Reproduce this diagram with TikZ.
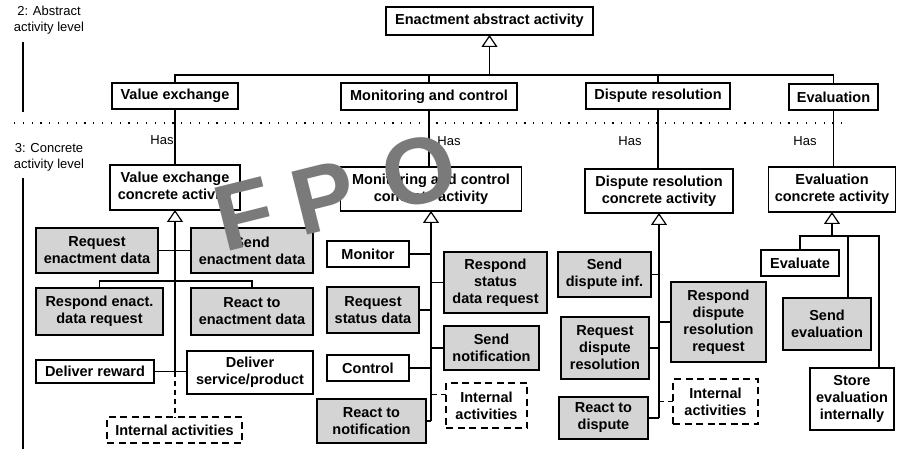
\documentclass[tikz,border=0pt]{standalone}
\usepackage{fontspec}
\setmainfont{Liberation Sans}
\usetikzlibrary{arrows.meta,calc}
\definecolor{boxgray}{gray}{0.83}
\definecolor{fpogray}{gray}{0.48}
\begin{document}
\begin{tikzpicture}[x=1pt,y=-1pt,
  every node/.style={inner sep=0pt, outer sep=0pt},
  box/.style={draw, line width=1.3pt, fill=white, align=center,
    font=\bfseries\fontsize{14.5}{17}\selectfont},
  gbox/.style={box, fill=boxgray},
  ibox/.style={box, dash pattern=on 7pt off 4.5pt},
  link/.style={line width=1.1pt},
  tri/.style={link, -{Triangle[open, width=16pt, length=12pt, line width=1.2pt, fill=white]}},
  dlink/.style={link, dash pattern=on 5pt off 4pt},
  has/.style={font=\fontsize{13}{15}\selectfont},
  lvl/.style={align=center, font=\fontsize{13}{16}\selectfont},
  fpo/.style={text=fpogray, font=\bfseries\fontsize{94}{94}\selectfont, rotate=14}]

\fill[white] (0,0) rectangle (897,449);
\useasboundingbox (0,0) rectangle (897,449);

% level captions and separators
\node[lvl] (l2) at (49,20) {2: Abstract\\activity level};
\node[lvl] (l3) at (49,157) {3: Concrete\\activity level};
\coordinate (l2a) at (23,42);  \coordinate (l2b) at (23,112);
\coordinate (l3a) at (23,178); \coordinate (l3b) at (23,449);
\draw[link] (l2a) -- (l2b);
\draw[link] (l3a) -- (l3b);
\coordinate (sepL) at (14,123); \coordinate (sepR) at (845,123);
\draw[line width=1.1pt, dash pattern=on 1.2pt off 7.6pt] (sepL) -- (sepR);

% abstract activities
\node[box, minimum width=207pt, minimum height=28pt] (enact) at (489.5,21) {Enactment abstract activity};
\node[box, minimum width=126pt, minimum height=26pt] (val)  at (175,96)   {Value exchange};
\node[box, minimum width=176pt, minimum height=27pt] (mon)  at (429,96.5) {Monitoring and control};
\node[box, minimum width=144pt, minimum height=26pt] (disp) at (658,96)   {Dispute resolution};
\node[box, minimum width=89pt,  minimum height=26pt] (evl)  at (833.5,97) {Evaluation};

% concrete activities
\node[box, minimum width=130pt, minimum height=45pt] (valc)  at (175,187.5) {Value exchange\\concrete activity};
\node[box, minimum width=181pt, minimum height=44pt] (monc)  at (431,189)   {Monitoring and control\\concrete activity};
\node[box, minimum width=148pt, minimum height=44pt] (dispc) at (659,191)   {Dispute resolution\\concrete activity};
\node[box, minimum width=127pt, minimum height=45pt] (evalc) at (832,189.5) {Evaluation\\concrete activity};

% value exchange activities
\node[gbox, minimum width=122pt, minimum height=45pt] (req)  at (97,250.5)  {Request\\enactment data};
\node[gbox, minimum width=122pt, minimum height=45pt] (snd)  at (252,250.5) {Send\\enactment data};
\node[gbox, minimum width=127pt, minimum height=47pt] (resp) at (99.5,311.5) {Respond enact.\\data request};
\node[gbox, minimum width=122pt, minimum height=47pt] (rct)  at (252,311.5) {React to\\enactment data};
\node[box,  minimum width=118pt, minimum height=23pt] (dr)   at (95,371.5)  {Deliver reward};
\node[box,  minimum width=126pt, minimum height=43pt] (dsp)  at (250,372.5) {Deliver\\service/product};
\node[ibox, minimum width=135pt, minimum height=26pt] (ia1)  at (174.5,430) {Internal activities};

% monitoring and control activities
\node[box,  minimum width=82pt,  minimum height=26pt] (mnt) at (368,254)     {Monitor};
\node[gbox, minimum width=103pt, minimum height=61pt] (rsd) at (495.5,282.5) {Respond\\status\\data request};
\node[gbox, minimum width=92pt,  minimum height=46pt] (rqs) at (373,310)     {Request\\status data};
\node[gbox, minimum width=95pt,  minimum height=44pt] (sn)  at (491.5,348)   {Send\\notification};
\node[box,  minimum width=82pt,  minimum height=26pt] (ctl) at (368,368)     {Control};
\node[ibox, minimum width=81pt,  minimum height=45pt] (ia2) at (486.5,405.5) {Internal\\activities};
\node[gbox, minimum width=109pt, minimum height=44pt] (rtn) at (371.5,421)   {React to\\notification};

% dispute resolution activities
\node[gbox, minimum width=93pt, minimum height=45pt] (sdi)  at (604.5,274.5) {Send\\dispute inf.};
\node[gbox, minimum width=95pt, minimum height=80pt] (rdr)  at (718.5,322)   {Respond\\dispute\\resolution\\request};
\node[gbox, minimum width=88pt, minimum height=62pt] (rqdr) at (605,348)     {Request\\dispute\\resolution};
\node[ibox, minimum width=85pt, minimum height=45pt] (ia3)  at (715.5,401.5) {Internal\\activities};
\node[gbox, minimum width=89pt, minimum height=42pt] (rtd)  at (603.5,418)   {React to\\dispute};

% evaluation activities
\node[box,  minimum width=78pt, minimum height=26pt] (ev) at (800,263) {Evaluate};
\node[gbox, minimum width=88pt, minimum height=52pt] (se) at (827,324) {Send\\evaluation};
\node[box,  minimum width=84pt, minimum height=62pt] (st) at (852,399) {Store\\evaluation\\internally};

% generalisation of the abstract activities
\coordinate (bar) at (0,75);
\draw[tri] (enact.south |- bar) -- (enact.south);
\draw[link] (val.north) -- (val.north |- bar) -- (evl.north |- bar) -- (evl.north);
\draw[link] (mon.north) -- (mon.north |- bar);
\draw[link] (disp.north) -- (disp.north |- bar);

% "Has" links between the levels
\draw[link] (val.south) -- (val.south |- valc.north);
\draw[link] (mon.south) -- (mon.south |- monc.north);
\draw[link] (disp.south) -- (disp.south |- dispc.north);
\draw[link] (evl.south) -- (evl.south |- evalc.north);
\node[has] (has1) at (162,140) {Has};
\node[has] (has2) at (449,141) {Has};
\node[has] (has3) at (630,141) {Has};
\node[has] (has4) at (805,141) {Has};

% value exchange tree
\draw[tri] (valc.south |- dr.east) -- (valc.south);
\draw[link] (req.east) -- (snd.west);
\coordinate (vrow) at (0,281);
\draw[link] (resp.north) -- (resp.north |- vrow) -- (rct.north |- vrow) -- (rct.north);
\draw[link] (dr.east) -- (dsp.west |- dr.east);
\draw[dlink] (valc.south |- dr.east) -- (valc.south |- ia1.north);

% monitoring and control tree
\draw[tri] (monc.south |- rtn.east) -- (monc.south);
\foreach \n in {mnt,rqs,ctl,rtn} \draw[link] (\n.east) -- (monc.south |- \n.east);
\foreach \n in {rsd,sn} \draw[link] (\n.west) -- (monc.south |- \n.west);
\coordinate (ia2tap) at ($(ia2.north west)!0.25!(ia2.south west)$);
\draw[dlink] (ia2tap) -- (monc.south |- ia2tap);

% dispute resolution tree
\draw[tri] (dispc.south |- rtd.east) -- (dispc.south);
\foreach \n in {sdi,rqdr,rtd} \draw[link] (\n.east) -- (dispc.south |- \n.east);
\draw[link] (rdr.west) -- (dispc.south |- rdr.west);
\draw[dlink] (ia3.west) -- (dispc.south |- ia3.west);

% evaluation tree
\coordinate (ebar) at (0,236);
\coordinate (sedrop) at (848,236);
\coordinate (stdrop) at (879,236);
\draw[tri] (evalc.south |- ebar) -- (evalc.south);
\draw[link] (ev.north) -- (ev.north |- ebar) -- (stdrop) -- (stdrop |- st.north);
\draw[link] (sedrop) -- (sedrop |- se.north);

% FPO stamp
\node[fpo] (fpoF) at (245,214) {F};
\node[fpo] (fpoP) at (324,198) {P};
\node[fpo] (fpoO) at (419,171) {O};
\end{tikzpicture}
\end{document}
